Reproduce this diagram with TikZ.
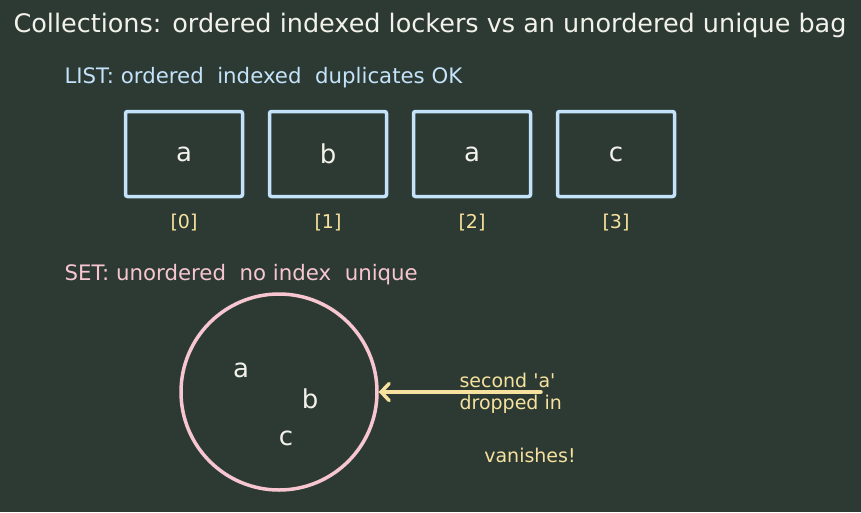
\documentclass[tikz,border=0pt]{standalone}
\usepackage{fontspec}
\setmainfont{DejaVu Sans}
\newfontfamily\plainfont{DejaVu Sans}
\usetikzlibrary{arrows.meta, positioning}

\definecolor{bgcol}{HTML}{2C3A33}
\definecolor{inkcol}{HTML}{F2F2EA}
\definecolor{listcol}{HTML}{C4E2FA}
\definecolor{setcol}{HTML}{F7C6D0}
\definecolor{idxcol}{HTML}{F6E29E}

\begin{document}
\begin{tikzpicture}[
    x=1pt, y=-1pt,
    locker/.style={rectangle, draw=listcol, line width=3.5pt, rounded corners=2pt, minimum width=117pt, minimum height=85pt, text=inkcol, font=\fontsize{26}{30}\selectfont},
    idx/.style={text=idxcol, font=\fontsize{19}{22}\selectfont},
    heading/.style={anchor=west, font=\fontsize{21.3}{25}\selectfont},
    member/.style={text=inkcol, font=\fontsize{26}{30}\selectfont},
    note/.style={text=idxcol, font=\plainfont\fontsize{19}{22}\selectfont, align=left},
    arrow/.style={-{Straight Barb[length=8pt, width=17pt, line cap=round]}, line width=3.5pt, draw=idxcol, line cap=round}
]

    % Canvas
    \fill[bgcol] (0,0) rectangle (861,512);
    \useasboundingbox (0,0) rectangle (861,512);

    % Title and headings
    \node[text=inkcol, font=\fontsize{25.5}{30}\selectfont] (title) at (430,25) {Collections: ordered indexed lockers vs an unordered unique bag};
    \node[heading, text=listcol] (listhead) at (61,78) {LIST: ordered\ \ indexed\ \ duplicates OK};
    \node[heading, text=setcol] (sethead) at (61,275) {SET: unordered\ \ no index\ \ unique};

    % List lockers
    \node[locker] (l0) at (184,154) {a};
    \node[locker] (l1) at (328,154) {b};
    \node[locker] (l2) at (472,154) {a};
    \node[locker] (l3) at (616,154) {c};

    \node[idx] (i0) at (184,223) {[0]};
    \node[idx] (i1) at (328,223) {[1]};
    \node[idx] (i2) at (472,223) {[2]};
    \node[idx] (i3) at (616,223) {[3]};

    % Set bag
    \node[circle, draw=setcol, line width=3.5pt, minimum size=196pt] (bag) at (279,392) {};
    \node[member] (ma) at (241,370) {a};
    \node[member] (mb) at (310,399) {b};
    \node[member] (mc) at (286,438) {c};

    % Dropped duplicate
    \coordinate (drop) at (541,392);
    \draw[arrow] (drop) -- (bag.east);
    \node[note, anchor=west] (second) at (456,393) {second 'a'\\dropped in};
    \node[note] (vanish) at (530,455) {vanishes!};

\end{tikzpicture}
\end{document}
